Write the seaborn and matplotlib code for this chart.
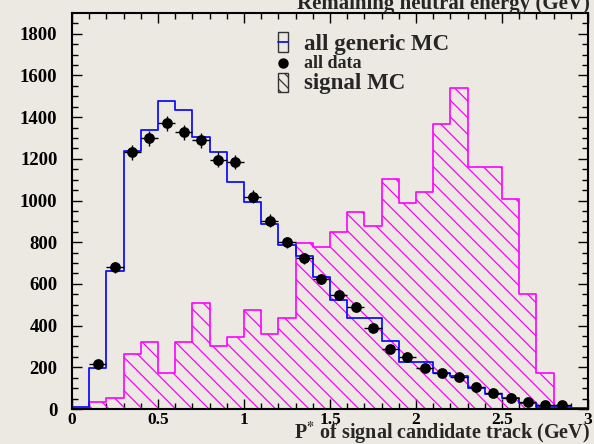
import numpy as np
import pandas as pd
import seaborn as sns
import matplotlib
matplotlib.use("Agg")
import matplotlib.pyplot as plt
from matplotlib.patches import Rectangle
from matplotlib.lines import Line2D
from matplotlib.ticker import MultipleLocator

# ---- data ----
bin_edges = [round(0.1 * i, 1) for i in range(31)]
bin_centers = [round(0.05 + 0.1 * i, 2) for i in range(30)]
generic_mc = [10, 195, 660, 1239, 1338, 1476, 1434, 1304, 1233, 1090,
              993, 886, 786, 735, 635, 523, 435, 435, 328, 227,
              227, 174, 157, 102, 72, 51, 27, 8, 8, 5]
signal_mc = [0, 35, 54, 264, 320, 171, 320, 510, 304, 344,
             473, 358, 435, 798, 778, 850, 946, 878, 1102, 990,
             1042, 1367, 1538, 1159, 1159, 1006, 550, 171, 0, 0]
data_x = [round(0.15 + 0.1 * i, 2) for i in range(28)]
data_y = [214, 680, 1231, 1298, 1370, 1327, 1290, 1196, 1185, 1018,
          903, 799, 723, 623, 548, 491, 387, 289, 251, 198,
          171, 153, 104, 75, 53, 32, 21, 18]
data_err = [15, 26, 35, 36, 37, 36, 36, 35, 34, 32, 30, 28, 27, 25,
            23, 22, 20, 17, 16, 14, 13, 12, 10, 9, 7, 6, 5, 4]
x_ticks = [0, 0.5, 1, 1.5, 2, 2.5, 3]
x_tick_labels = ["0", "0.5", "1", "1.5", "2", "2.5", "3"]
y_ticks = [0, 200, 400, 600, 800, 1000, 1200, 1400, 1600, 1800]

sns.set_theme(style="ticks")
plt.rcParams["font.family"] = ["Liberation Serif", "DejaVu Serif"]
plt.rcParams["font.weight"] = "bold"
plt.rcParams["hatch.color"] = "#ff00ff"
plt.rcParams["hatch.linewidth"] = 0.9
plt.rcParams["mathtext.fontset"] = "stix"

BG = "#ebe9e2"
W, H = 594, 444
fig = plt.figure(figsize=(W / 100, H / 100), dpi=100)
fig.patch.set_facecolor(BG)

def fx(x):
    return x / W

def fy(y):
    return 1 - y / H

ax = fig.add_axes([fx(72), fy(409), fx(588) - fx(72), fy(13.5) - fy(409)])
ax.set_facecolor(BG)

df_h = pd.DataFrame({"x": bin_centers, "generic": generic_mc, "signal": signal_mc})

# signal MC hatched histogram
n_before = len(ax.collections)
sns.histplot(data=df_h, x="x", weights="signal", bins=bin_edges, element="step",
             fill=True, color="#ff00ff", ax=ax, linewidth=1.2)
for coll in ax.collections[n_before:]:
    coll.set_facecolor("none")
    coll.set_edgecolor("#ff00ff")
    coll.set_alpha(None)
    coll.set_hatch("\\\\")
    coll.set_linewidth(1.2)

# generic MC blue histogram
sns.histplot(data=df_h, x="x", weights="generic", bins=bin_edges, element="step",
             fill=False, color="#1010ff", ax=ax, linewidth=1.3)

# data points
ax.errorbar(data_x, data_y, xerr=0.05, yerr=data_err, fmt="none",
            ecolor="black", elinewidth=1.0, capsize=0, zorder=4)
sns.scatterplot(x=data_x, y=data_y, ax=ax, color="black", s=60,
                edgecolor="black", linewidth=0, zorder=5, legend=False)

ax.set_xlim(0, 3)
ax.set_ylim(0, 1897)
ax.set_xlabel("")
ax.set_ylabel("")
ax.set_xticks(x_ticks)
ax.set_xticklabels(x_tick_labels)
ax.set_yticks(y_ticks)
ax.xaxis.set_minor_locator(MultipleLocator(0.1))
ax.yaxis.set_minor_locator(MultipleLocator(50))
ax.tick_params(which="both", direction="in", top=True, right=True, colors="black")
ax.tick_params(which="major", length=7, width=1.0)
ax.tick_params(which="minor", length=4, width=1.0)
ax.tick_params(axis="y", which="major", pad=10.5, labelsize=13.5)
ax.tick_params(axis="x", which="major", pad=2.5, labelsize=12.5)
for lab in ax.get_xticklabels() + ax.get_yticklabels():
    lab.set_fontweight("bold")
for sp in ax.spines.values():
    sp.set_visible(True)
    sp.set_linewidth(1.5)
    sp.set_color("black")

# title (clipped at top, as in the reference) and x label
fig.text(fx(590), fy(9), "Remaining neutral energy (GeV)", ha="right", va="baseline",
         fontsize=15, fontweight="bold")
fig.text(fx(590), fy(439), r"P$^{*}$ of signal candidate track (GeV)", ha="right",
         va="baseline", fontsize=14.5, fontweight="bold")

# legend drawn by hand
tf = fig.transFigure
box1 = Rectangle((fx(278), fy(52)), fx(288) - fx(278), fy(32) - fy(52), transform=tf,
                 facecolor="none", edgecolor="#333333", linewidth=1.0)
fig.add_artist(box1)
fig.add_artist(Line2D([fx(278), fx(288)], [fy(42), fy(42)], transform=tf,
                      color="#1010ff", linewidth=1.3))
fig.add_artist(Line2D([fx(283)], [fy(63)], transform=tf, marker="o", markersize=6.5,
                      color="black", linestyle="none"))
box3 = Rectangle((fx(278), fy(92)), fx(288) - fx(278), fy(73) - fy(92), transform=tf,
                 facecolor="none", edgecolor="#333333", linewidth=1.0, hatch="\\\\\\")
fig.add_artist(box3)
fig.text(fx(304), fy(50), "all generic MC", ha="left", va="baseline",
         fontsize=16.5, fontweight="bold")
fig.text(fx(304), fy(68), "all data", ha="left", va="baseline",
         fontsize=13, fontweight="bold")
fig.text(fx(304), fy(89), "signal MC", ha="left", va="baseline",
         fontsize=16.5, fontweight="bold")

fig.savefig("out.png", dpi=100, facecolor=BG)
